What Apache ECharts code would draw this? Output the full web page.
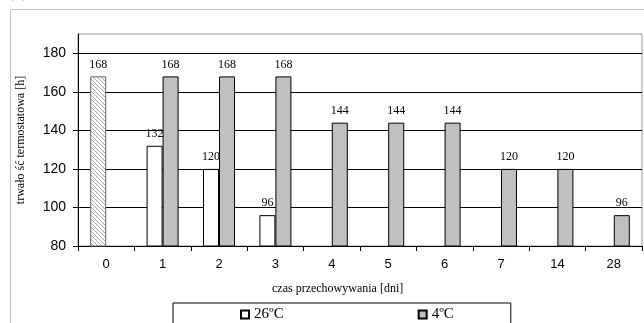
<!DOCTYPE html>
<html>
<head>
<meta charset="utf-8">
<script src="https://cdn.jsdelivr.net/npm/echarts@6/dist/echarts.min.js"></script>
<style>
html,body{margin:0;padding:0;background:#fff;}
#chart{width:644px;height:323px;}
</style>
</head>
<body>
<div id="chart"></div>
<script>
var categories = ['0','1','2','3','4','5','6','7','14','28'];
var values26 = [168, 132, 120, 96, null, null, null, null, null, null];
var values4 = [null, 168, 168, 168, 144, 144, 144, 120, 120, 96];
var yTicks = [80, 100, 120, 140, 160, 180];
var seriesNames = ['26ºC', '4ºC'];
var xAxisTitle = 'czas przechowywania [dni]';
var yAxisTitle = 'trwało ść termostatowa [h]';

// hatch pattern for the reference (day 0) bar
var pc = document.createElement('canvas');
pc.width = 4; pc.height = 4;
var pctx = pc.getContext('2d');
pctx.fillStyle = '#ffffff';
pctx.fillRect(0, 0, 4, 4);
pctx.strokeStyle = '#a8a8a8';
pctx.lineWidth = 1;
pctx.beginPath();
pctx.moveTo(0, 0); pctx.lineTo(4, 4);
pctx.moveTo(-1, 3); pctx.lineTo(1, 5);
pctx.moveTo(3, -1); pctx.lineTo(5, 1);
pctx.stroke();

var serifFont = '"Liberation Serif","Times New Roman",serif';
var sansFont = '"Liberation Sans",Arial,sans-serif';

var data26 = values26.map(function (v, i) {
  if (i === 0 && v != null) {
    return { value: v, itemStyle: { color: { image: pc, repeat: 'repeat' }, borderColor: '#666', borderWidth: 1 } };
  }
  return v;
});

var labelStyle = {
  show: true, position: 'top', distance: 6,
  fontFamily: serifFont, fontSize: 12, color: '#000'
};

var chart = echarts.init(document.getElementById('chart'), null, { renderer: 'canvas' });
chart.setOption({
  animation: false,
  backgroundColor: '#ffffff',
  grid: {
    left: 78, top: 34, right: 2, bottom: 77,
    show: true, borderColor: '#9a9a9a', borderWidth: 1, backgroundColor: 'transparent'
  },
  graphic: [
    { type: 'rect', silent: true, z: -10,
      shape: { x: 10.5, y: 9.5, width: 800, height: 400 },
      style: { fill: null, stroke: '#c4c4c4', lineWidth: 1 } },
    { type: 'text', silent: true, left: 8, top: -17,
      style: { text: '(a)', font: '18px ' + serifFont, fill: '#999' } },
    { type: 'text', silent: true, left: 272, top: 283,
      style: { text: xAxisTitle, font: '12px ' + serifFont, fill: '#000' } }
  ],
  legend: {
    data: seriesNames,
    left: 173, top: 303,
    icon: 'rect', itemWidth: 8, itemHeight: 8, itemGap: 134,
    padding: [4, 57, 5, 67],
    borderColor: '#000', borderWidth: 1,
    textStyle: { fontFamily: serifFont, fontSize: 15, color: '#000', padding: [0, 0, 0, 0] }
  },
  xAxis: {
    type: 'category',
    data: categories,
    axisLine: { lineStyle: { color: '#000', width: 1 } },
    axisTick: { show: true, length: 5, lineStyle: { color: '#000' } },
    axisLabel: { fontFamily: sansFont, fontSize: 13, color: '#000', margin: 12 },
    splitLine: { show: false }
  },
  yAxis: {
    type: 'value',
    min: 80, max: 190, interval: 20,
    name: yAxisTitle,
    nameLocation: 'middle',
    nameGap: 51,
    nameTextStyle: { fontFamily: serifFont, fontSize: 12, color: '#000' },
    axisLine: { show: true, lineStyle: { color: '#000', width: 1 } },
    axisTick: { show: true, length: 5, lineStyle: { color: '#000' }, customValues: yTicks },
    axisLabel: { fontFamily: sansFont, fontSize: 14, color: '#000', margin: 12, customValues: yTicks },
    splitLine: { show: true, showMinLine: false, lineStyle: { color: '#000', width: 1 } }
  },
  series: [
    {
      name: seriesNames[0], type: 'bar', data: data26,
      barWidth: 16, barGap: '0%',
      itemStyle: { color: '#ffffff', borderColor: '#000', borderWidth: 1 },
      label: labelStyle
    },
    {
      name: seriesNames[1], type: 'bar', data: values4,
      barWidth: 16, barGap: '0%',
      itemStyle: { color: '#c0c0c0', borderColor: '#000', borderWidth: 1 },
      label: labelStyle
    }
  ]
});
</script>
</body>
</html>
